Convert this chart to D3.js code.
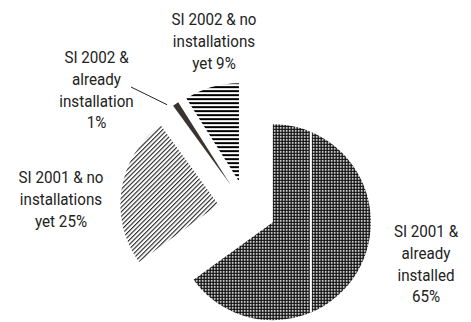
<!DOCTYPE html>
<html>
<head>
    <meta charset="utf-8">
    <script src="https://cdnjs.cloudflare.com/ajax/libs/d3/7.8.5/d3.min.js"></script>
    <style>
        body { margin: 0; background: #fff; overflow: hidden; }
        .lbl { font-family: Roboto, "Liberation Sans", sans-serif; font-size: 16.5px; fill: #222; }
    </style>
</head>
<body>
    <svg id="chart"></svg>
    <script>
        // slice data, clockwise from 12 o'clock
        const categories = ["SI 2001 & already installed", "SI 2001 & no installations yet",
                            "SI 2002 & already installation", "SI 2002 & no installations yet"];
        const values = [65, 25, 1, 9];
        const labelLines = [
            ["SI 2001 &", "already", "installed", "65%"],
            ["SI 2001 & no", "installations", "yet 25%"],
            ["SI 2002 &", "already", "installation", "1%"],
            ["SI 2002 & no", "installations", "yet 9%"]
        ];
        const fills = ["url(#dots)", "url(#diag)", "#3a3431", "url(#hlines)"];

        const width = 471, height = 322;
        const cx = 247, cy = 209, radius = 98, explode = 29;
        // where each label block sits (centre x, first baseline)
        const labelAt = [[426, 237], [61, 183], [96.5, 63], [214, 25]];
        const lineH = 21.8;

        const svg = d3.select("#chart").attr("width", width).attr("height", height);
        const defs = svg.append("defs");

        // fine dot screen for the big slice
        const dots = defs.append("pattern").attr("id", "dots")
            .attr("patternUnits", "userSpaceOnUse").attr("width", 3).attr("height", 3);
        dots.append("rect").attr("width", 3).attr("height", 3).attr("fill", "#111");
        dots.append("rect").attr("x", 1).attr("y", 1).attr("width", 1.6).attr("height", 1.6).attr("fill", "#fff");

        // thin diagonal hatching
        const diag = defs.append("pattern").attr("id", "diag")
            .attr("patternUnits", "userSpaceOnUse").attr("width", 3.2).attr("height", 10)
            .attr("patternTransform", "rotate(45)");
        diag.append("rect").attr("width", 1.1).attr("height", 10).attr("fill", "#222");

        // thick horizontal lines
        const hl = defs.append("pattern").attr("id", "hlines")
            .attr("patternUnits", "userSpaceOnUse").attr("width", 10).attr("height", 4);
        hl.append("rect").attr("y", 1).attr("width", 10).attr("height", 2).attr("fill", "#000");

        const pie = d3.pie().sort(null).value(d => d)(values);
        const arc = d3.arc().innerRadius(0).outerRadius(radius);

        const offset = d => {
            const a = (d.startAngle + d.endAngle) / 2;
            return [Math.sin(a) * explode, -Math.cos(a) * explode];
        };

        const g = svg.append("g").attr("transform", `translate(${cx},${cy})`);

        const slices = g.selectAll("g.slice").data(pie).enter().append("g")
            .attr("class", "slice")
            .attr("transform", d => `translate(${offset(d)})`);

        slices.append("clipPath").attr("id", (d, i) => "clip" + i)
            .append("path").attr("d", arc);

        slices.append("path")
            .attr("d", arc)
            .attr("fill", (d, i) => fills[i]);

        // the print shows a thin white gap running down the big slice
        slices.filter((d, i) => i === 0).append("rect")
            .attr("x", 37).attr("y", -radius).attr("width", 2).attr("height", radius * 2)
            .attr("fill", "#fff").attr("clip-path", "url(#clip0)");

        // leader line for the 1% slice
        const small = pie[2];
        const [ox, oy] = offset(small);
        const ex = cx + ox + Math.sin(small.startAngle) * radius - 6;
        const ey = cy + oy - Math.cos(small.startAngle) * radius - 1;
        svg.append("line")
            .attr("x1", 131).attr("y1", 87)
            .attr("x2", ex).attr("y2", ey)
            .attr("stroke", "#222").attr("stroke-width", 1);

        // labels, squeezed a little to look like the condensed face of the print
        labelLines.forEach((lines, i) => {
            const t = svg.append("g")
                .attr("transform", `translate(${labelAt[i][0]},${labelAt[i][1]}) scale(0.92,1)`)
                .append("text").attr("class", "lbl")
                .attr("text-anchor", "middle");
            lines.forEach((s, j) => {
                t.append("tspan").attr("x", 0).attr("y", j * lineH).text(s);
            });
        });
    </script>
</body>
</html>
